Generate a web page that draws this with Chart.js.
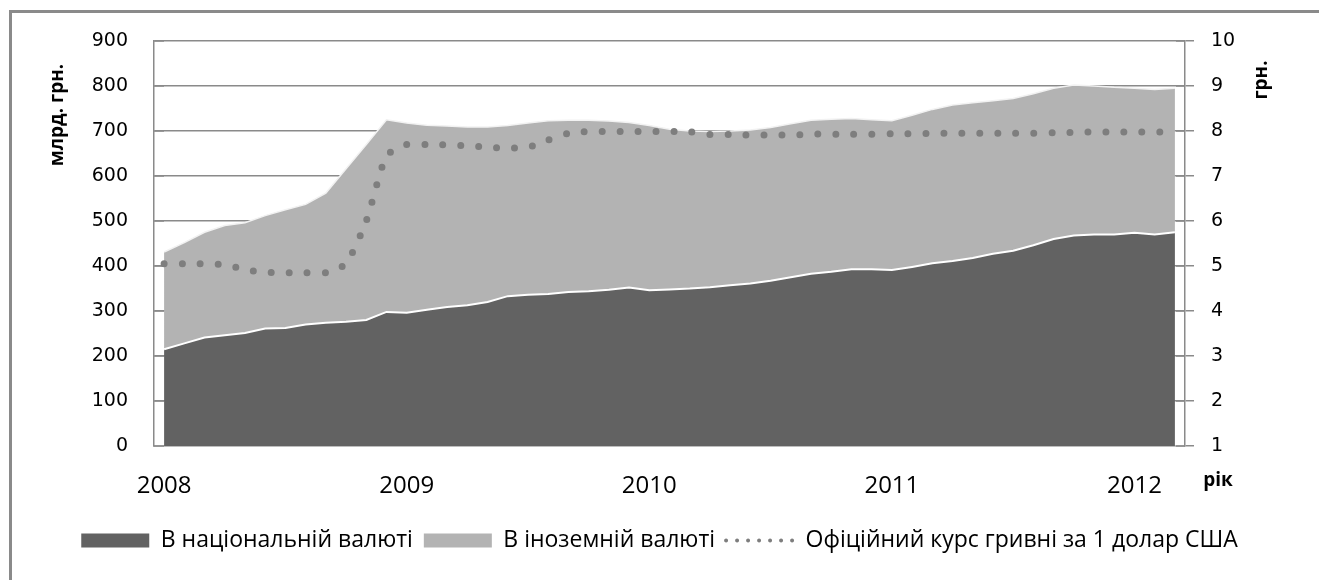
<!DOCTYPE html>
<html>
<head>
<meta charset="utf-8">
<script src="https://cdn.jsdelivr.net/npm/chart.js@4.4.1/dist/chart.umd.min.js"></script>
<style>
  html, body { margin: 0; padding: 0; background: #fff; overflow: hidden; }
  #wrap { position: relative; width: 1319px; height: 580px; }
  #frame { position: absolute; left: 9px; top: 10px; width: 1400px; height: 700px;
           border-left: 3px solid #8a8a8a; border-top: 3px solid #8a8a8a; pointer-events: none; }
  canvas { position: absolute; left: 0; top: 0; }
</style>
</head>
<body>
<div id="wrap">
  <canvas id="c" width="1319" height="580"></canvas>
  <div id="frame"></div>
</div>
<script>
// ---- categories: months Jan 2008 .. Mar 2012 ----
const months = [
  '01.2008','02.2008','03.2008','04.2008','05.2008','06.2008','07.2008','08.2008','09.2008','10.2008','11.2008','12.2008',
  '01.2009','02.2009','03.2009','04.2009','05.2009','06.2009','07.2009','08.2009','09.2009','10.2009','11.2009','12.2009',
  '01.2010','02.2010','03.2010','04.2010','05.2010','06.2010','07.2010','08.2010','09.2010','10.2010','11.2010','12.2010',
  '01.2011','02.2011','03.2011','04.2011','05.2011','06.2011','07.2011','08.2011','09.2011','10.2011','11.2011','12.2011',
  '01.2012','02.2012','03.2012'
];
const yearLabels = ['2008', '2009', '2010', '2011', '2012'];

// ---- series (млрд. грн.) ----
const national = [
  215, 228, 241, 246, 251, 261, 262, 270, 274, 276, 280, 298,
  296, 303, 309, 313, 320, 333, 336, 338, 342, 344, 347, 352,
  346, 348, 350, 353, 357, 361, 367, 375, 383, 387, 393, 393,
  391, 398, 406, 411, 418, 427, 434, 446, 460, 468, 470, 470,
  474, 470, 475
];
const foreign = [
  216, 224, 234, 244, 245, 251, 263, 267, 288, 340, 390, 427,
  422, 410, 402, 396, 389, 379, 382, 385, 382, 380, 375, 367,
  366, 356, 350, 346, 343, 341, 341, 341, 341, 339, 335, 332,
  332, 337, 342, 347, 345, 340, 338, 337, 335, 334, 330, 327,
  321, 322, 320
];
// ---- official UAH/USD rate (грн.) ----
const rate = [
  5.05, 5.05, 5.05, 5.03, 4.92, 4.86, 4.85, 4.85, 4.85, 5.05, 6.00, 7.45,
  7.70, 7.70, 7.69, 7.67, 7.64, 7.62, 7.64, 7.80, 7.95, 7.99, 7.99, 7.99,
  7.99, 7.99, 7.98, 7.92, 7.92, 7.91, 7.91, 7.91, 7.93, 7.93, 7.93, 7.93,
  7.94, 7.94, 7.95, 7.95, 7.95, 7.95, 7.95, 7.95, 7.96, 7.97, 7.98, 7.98,
  7.98, 7.98, 7.98
];
const seriesNames = ['В національній валюті', 'В іноземній валюті', 'Офіційний курс гривні за 1 долар США'];
const leftTitle = 'млрд. грн.';
const rightTitle = 'грн.';
const xTitle = 'рік';

const GRID = '#8a8a8a';
const DARK = '#626262';
const LIGHT = '#b3b3b3';
const DOT = '#7e7e7e';

const decor = {
  id: 'decor',
  beforeDatasetsDraw(chart) {
    const { ctx, scales: { y, y1 } } = chart;
    ctx.save();
    ctx.strokeStyle = GRID;
    ctx.lineWidth = 1.5;
    y.ticks.forEach(t => {
      const py = y.getPixelForValue(t.value);
      ctx.beginPath(); ctx.moveTo(y.right, py); ctx.lineTo(y.right + 10, py); ctx.stroke();
    });
    y1.ticks.forEach(t => {
      const py = y1.getPixelForValue(t.value);
      ctx.beginPath(); ctx.moveTo(y1.left - 9, py); ctx.lineTo(y1.left, py); ctx.stroke();
    });
    ctx.restore();
  },
  afterDraw(chart) {
    const { ctx, chartArea: a } = chart;
    ctx.save();
    ctx.fillStyle = '#000';
    ctx.font = 'bold 19px "Open Sans"';
    ctx.textAlign = 'center';
    ctx.textBaseline = 'middle';
    ctx.save();
    ctx.translate(a.left - 96, a.top + 74);
    ctx.rotate(-Math.PI / 2);
    ctx.fillText(leftTitle, 0, 0);
    ctx.restore();
    ctx.save();
    ctx.translate(a.right + 77, a.top + 39);
    ctx.rotate(-Math.PI / 2);
    ctx.fillText(rightTitle, 0, 0);
    ctx.restore();
    ctx.fillText(xTitle, a.right + 33, a.bottom + 35);
    ctx.restore();
  }
};

new Chart(document.getElementById('c'), {
  type: 'line',
  data: {
    labels: months,
    datasets: [
      {
        label: seriesNames[0], data: national, yAxisID: 'y', stack: 'money', order: 1,
        backgroundColor: DARK, borderColor: '#ffffff', borderWidth: 2,
        fill: 'origin', pointRadius: 0, tension: 0
      },
      {
        label: seriesNames[1], data: foreign, yAxisID: 'y', stack: 'money', order: 2,
        backgroundColor: LIGHT, borderColor: '#f2f2f2', borderWidth: 1.5,
        fill: '-1', pointRadius: 0, tension: 0
      },
      {
        label: seriesNames[2], data: rate, yAxisID: 'y1', order: 0,
        borderColor: DOT, backgroundColor: DOT, borderWidth: 7,
        borderDash: [0, 18], borderCapStyle: 'round',
        fill: false, pointRadius: 0, tension: 0.2
      }
    ]
  },
  options: {
    responsive: false,
    animation: false,
    devicePixelRatio: 1,
    layout: { padding: { left: 0, right: 0, top: 41, bottom: 18 } },
    plugins: {
      tooltip: { enabled: false },
      legend: {
        position: 'bottom',
        align: 'center',
        labels: {
          font: { family: 'Open Sans', size: 23 },
          color: '#000',
          usePointStyle: true,
          pointStyleWidth: 68,
          boxHeight: 14,
          padding: 11,
          generateLabels(chart) {
            const items = Chart.defaults.plugins.legend.labels.generateLabels(chart);
            items.forEach(it => {
              if (it.datasetIndex < 2) {
                it.pointStyle = 'rect';
                it.lineWidth = 0;
                it.strokeStyle = it.fillStyle;
                it.lineDash = [];
              } else {
                it.pointStyle = 'line';
                it.lineWidth = 4;
                it.lineDash = [0, 11];
                it.lineCap = 'round';
                it.strokeStyle = DOT;
              }
            });
            return items.sort((a, b) => a.datasetIndex - b.datasetIndex);
          }
        }
      }
    },
    scales: {
      x: {
        type: 'category',
        offset: true,
        grid: {
          offset: true,
          drawTicks: false,
          lineWidth: 1.5,
          color: c => (c.index % 12 === 0 ? GRID : 'rgba(0,0,0,0)')
        },
        border: { display: true, color: '#bdbdbd', width: 2 },
        ticks: {
          autoSkip: false,
          maxRotation: 0,
          padding: 26,
          color: '#000',
          font: { family: 'Open Sans', size: 24 },
          callback: (v, i) => (i % 12 === 0 ? yearLabels[i / 12] : null)
        },
        afterFit: s => { s.height = 72; }
      },
      y: {
        position: 'left',
        stacked: true,
        min: 0, max: 900,
        grid: { drawTicks: false, color: GRID, lineWidth: 1.5 },
        border: { display: true, color: GRID, width: 1.5 },
        ticks: { stepSize: 100, padding: 26, color: '#000', font: { family: 'DejaVu Sans', size: 19 } },
        afterFit: s => { s.width = 154; }
      },
      y1: {
        position: 'right',
        min: 1, max: 10,
        grid: { drawOnChartArea: false, drawTicks: true, tickLength: 9, color: GRID, lineWidth: 1.5 },
        border: { display: true, color: GRID, width: 1.5 },
        ticks: { stepSize: 1, padding: 17, color: '#000', font: { family: 'DejaVu Sans', size: 19 } },
        afterFit: s => { s.width = 134; }
      }
    }
  },
  plugins: [decor]
});
</script>
</body>
</html>
